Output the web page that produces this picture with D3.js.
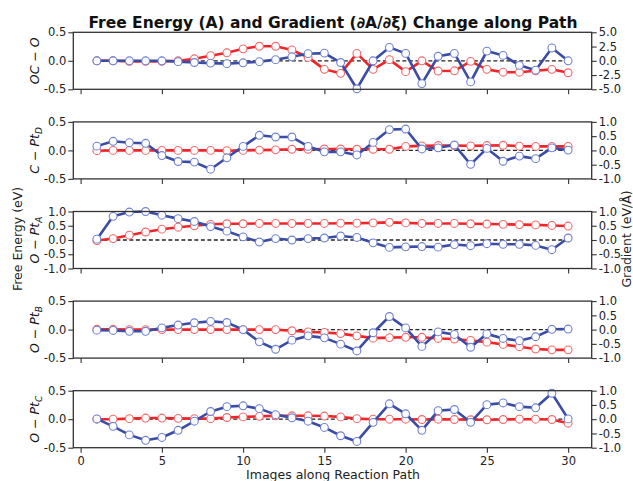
<!DOCTYPE html>
<html>
<head>
<meta charset="utf-8">
<script src="https://cdn.jsdelivr.net/npm/d3@7"></script>
<style>
  body { margin: 0; background: #fff; }
  text { font-family: "DejaVu Sans", sans-serif; }
</style>
</head>
<body>
<svg id="chart" width="633" height="481"></svg>
<script>
// images along the path
var images = [1,2,3,4,5,6,7,8,9,10,11,12,13,14,15,16,17,18,19,20,21,22,23,24,25,26,27,28,29,30];
var xTicks = [0, 5, 10, 15, 20, 25, 30];

// free energy (eV), left axis
var energyOCO = [0,0,-0.01,-0.01,-0.01,0,0.035,0.09,0.14,0.21,0.255,0.255,0.19,0.06,-0.15,-0.22,0.13,-0.15,0.02,-0.19,0.0,-0.18,-0.175,-0.01,-0.15,-0.2,-0.2,-0.175,-0.15,-0.21];
var energyCPtD = [-0.005,0,0,0,0,0,0,0,-0.005,0,0.005,0.01,0.02,0.02,0.025,0.025,0.02,0.02,0.02,0.07,0.08,0.085,0.085,0.08,0.085,0.09,0.075,0.07,0.07,0.07];
var energyOPtA = [-0.02,0.05,0.17,0.28,0.38,0.45,0.5,0.55,0.57,0.57,0.58,0.58,0.58,0.58,0.58,0.59,0.59,0.6,0.62,0.6,0.58,0.58,0.58,0.57,0.56,0.55,0.54,0.53,0.51,0.49];
var energyOPtB = [0.005,0.005,0,0,0,0,0,0,0,0,0,0,-0.02,-0.04,-0.05,-0.07,-0.11,-0.15,-0.14,-0.135,-0.135,-0.155,-0.165,-0.19,-0.22,-0.26,-0.3,-0.34,-0.355,-0.355];
var energyOPtC = [0,0,0.01,0.02,0.02,0.015,0.01,0.01,0.03,0.04,0.05,0.06,0.06,0.06,0.055,0.04,0.01,0,0,0,-0.005,0,-0.005,-0.01,-0.01,-0.005,0,0,-0.005,-0.07];

// gradient (eV/Å), right axis
var gradOCO = [0,0,0,0,0,-0.15,-0.3,-0.4,-0.5,-0.35,-0.15,0.2,0.7,1.25,1.35,-0.3,-4.9,0,2.35,1.3,-4.0,0.8,1.3,-3.7,1.7,0.95,-0.8,-1.65,2.25,0];
var gradCPtD = [0.15,0.32,0.27,0.25,-0.18,-0.39,-0.41,-0.66,-0.26,0.14,0.53,0.47,0.47,0.14,-0.05,-0.05,-0.16,0.28,0.73,0.75,0.05,0.09,0.19,-0.49,0.07,-0.38,-0.2,-0.29,0.09,0.01];
var gradOPtA = [0.03,0.83,0.98,1.0,0.87,0.75,0.65,0.47,0.31,0.11,-0.07,0.05,0.0,0.05,0.07,0.14,0.09,-0.1,-0.26,-0.24,-0.23,-0.25,-0.16,-0.2,-0.13,-0.15,-0.15,-0.19,-0.34,0.07];
var gradOPtB = [-0.02,-0.03,-0.06,-0.06,0.06,0.16,0.24,0.29,0.25,0,-0.43,-0.69,-0.37,-0.22,-0.29,-0.51,-0.75,-0.11,0.46,0.06,-0.59,-0.08,-0.17,-0.62,-0.15,-0.31,-0.39,-0.25,0.01,0.02];
var gradOPtC = [0.01,-0.25,-0.55,-0.74,-0.64,-0.39,-0.07,0.27,0.44,0.47,0.37,0.16,0.05,-0.07,-0.29,-0.58,-0.78,-0.11,0.54,0.19,-0.39,0.3,0.34,-0.11,0.51,0.57,0.44,0.4,0.91,0.01];

var panels = [
  { lab: ["OC − O", null], energy: energyOCO, grad: gradOCO, left: [-0.5, 0.5], leftTicks: [-0.5, 0, 0.5], right: [-5, 5], rightTicks: [-5, -2.5, 0, 2.5, 5] },
  { lab: ["C − Pt", "D"], energy: energyCPtD, grad: gradCPtD, left: [-0.5, 0.5], leftTicks: [-0.5, 0, 0.5], right: [-1, 1], rightTicks: [-1, -0.5, 0, 0.5, 1] },
  { lab: ["O − Pt", "A"], energy: energyOPtA, grad: gradOPtA, left: [-1, 1], leftTicks: [-1, -0.5, 0, 0.5, 1], right: [-1, 1], rightTicks: [-1, -0.5, 0, 0.5, 1] },
  { lab: ["O − Pt", "B"], energy: energyOPtB, grad: gradOPtB, left: [-0.5, 0.5], leftTicks: [-0.5, 0, 0.5], right: [-1, 1], rightTicks: [-1, -0.5, 0, 0.5, 1] },
  { lab: ["O − Pt", "C"], energy: energyOPtC, grad: gradOPtC, left: [-0.5, 0.5], leftTicks: [-0.5, 0, 0.5], right: [-1, 1], rightTicks: [-1, -0.5, 0, 0.5, 1] }
];

var svg = d3.select("#chart");
var left = 73.3, right = 591.7, top0 = 32.3, step = 89.6, ph = 57;
var redLine = "#f0252a", redMark = "#f5686a", blueLine = "#3a4ca3", blueMark = "#6f80d6";

var x = d3.scaleLinear().domain([-0.45, 31.45]).range([left, right]);
var fmt = function(d) { return d.toFixed(1); };

panels.forEach(function(p, i) {
  var top = top0 + i * step;
  var yL = d3.scaleLinear().domain(p.left).range([top + ph, top]);
  var yR = d3.scaleLinear().domain(p.right).range([top + ph, top]);
  var g = svg.append("g");

  // zero reference
  g.append("line")
    .attr("x1", x(images[0])).attr("x2", x(images[images.length - 1]))
    .attr("y1", yL(0)).attr("y2", yL(0))
    .attr("stroke", "#222").attr("stroke-width", 1.3)
    .attr("stroke-dasharray", "4,2.5");

  var series = [
    { vals: p.energy, y: yL, line: redLine, mark: redMark },
    { vals: p.grad, y: yR, line: blueLine, mark: blueMark }
  ];
  series.forEach(function(s) {
    var line = d3.line()
      .x(function(d, j) { return x(images[j]); })
      .y(function(d) { return s.y(d); });
    g.append("path").datum(s.vals)
      .attr("d", line).attr("fill", "none")
      .attr("stroke", s.line).attr("stroke-width", 2.6)
      .attr("stroke-linejoin", "round");
    g.selectAll(null).data(s.vals).enter().append("circle")
      .attr("cx", function(d, j) { return x(images[j]); })
      .attr("cy", function(d) { return s.y(d); })
      .attr("r", 3.9)
      .attr("fill", "white")
      .attr("stroke", s.mark).attr("stroke-width", 1.1);
  });

  // axes
  var ax = g.append("g").attr("transform", "translate(" + left + ",0)")
    .call(d3.axisLeft(yL).tickValues(p.leftTicks).tickFormat(fmt).tickSize(5).tickPadding(2));
  var axr = g.append("g").attr("transform", "translate(" + right + ",0)")
    .call(d3.axisRight(yR).tickValues(p.rightTicks).tickFormat(fmt).tickSize(5).tickPadding(2));
  var axb = g.append("g").attr("transform", "translate(0," + (top + ph) + ")")
    .call(d3.axisBottom(x).tickValues(xTicks).tickFormat(i === panels.length - 1 ? d3.format("d") : "").tickSize(5).tickPadding(4));
  [ax, axr, axb].forEach(function(a) {
    a.select(".domain").remove();
    a.selectAll("line").attr("stroke", "#333").attr("stroke-width", 1.1);
    a.selectAll("text").attr("fill", "#222").style("font-size", "11.5px");
  });

  g.append("rect")
    .attr("x", left).attr("y", top).attr("width", right - left).attr("height", ph)
    .attr("fill", "none").attr("stroke", "#333").attr("stroke-width", 1.3);

  // panel label
  var t = g.append("text")
    .attr("transform", "translate(39," + (top + ph / 2) + ") rotate(-90)")
    .attr("text-anchor", "middle")
    .style("font-size", "12.5px").style("font-style", "italic").attr("fill", "#111");
  t.append("tspan").text(p.lab[0]);
  if (p.lab[1]) {
    t.append("tspan").attr("dy", 3).style("font-size", "9px").text(p.lab[1]);
  }
});

svg.append("text")
  .attr("x", 333).attr("y", 28)
  .attr("text-anchor", "middle")
  .style("font-size", "15.5px").style("font-weight", "bold").attr("fill", "#111")
  .text("Free Energy (A) and Gradient (∂A/∂ξ) Change along Path");

svg.append("text")
  .attr("x", 333).attr("y", 478.5)
  .attr("text-anchor", "middle")
  .style("font-size", "12.5px").attr("fill", "#222")
  .text("Images along Reaction Path");

svg.append("text")
  .attr("transform", "translate(22,239) rotate(-90)")
  .attr("text-anchor", "middle")
  .style("font-size", "12.5px").attr("fill", "#222")
  .text("Free Energy (eV)");

svg.append("text")
  .attr("transform", "translate(631,239) rotate(-90)")
  .attr("text-anchor", "middle")
  .style("font-size", "12.5px").attr("fill", "#222")
  .text("Gradient (eV/Å)");
</script>
</body>
</html>
